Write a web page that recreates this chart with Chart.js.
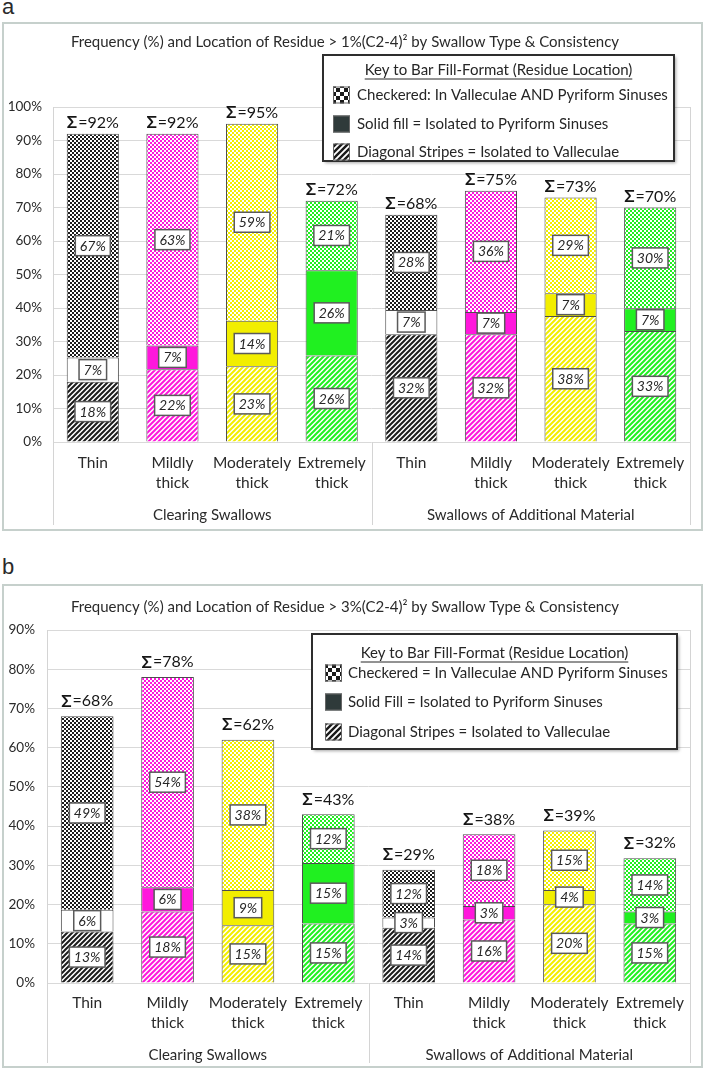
<!DOCTYPE html>
<html>
<head>
<meta charset="utf-8">
<script src="https://cdn.jsdelivr.net/npm/chart.js@4.4.1/dist/chart.umd.min.js"></script>
<style>
  body { margin: 0; background: #fff; width: 706px; height: 1069px; position: relative; overflow: hidden; }
  .tag { position: absolute; left: 2px; font: 22px/22px 'Liberation Sans', Arial, sans-serif; color: #2a2a2a; }
  .frame { position: absolute; left: 2px; width: 701px; border: 2px solid #c6d0cc; box-sizing: border-box; }
  .holder { position: absolute; left: 0; width: 706px; }
</style>
</head>
<body>
<div class="tag" style="top:-4px">a</div>
<div class="frame" style="top:22px;height:509px"></div>
<div class="holder" style="top:0;height:535px"><canvas id="chartA"></canvas></div>
<div class="tag" style="top:556px">b</div>
<div class="frame" style="top:584px;height:484px"></div>
<div class="holder" style="top:540px;height:529px"><canvas id="chartB"></canvas></div>

<script>
// Residue frequency by swallow type & consistency, panels a and b
const categories = [['Thin'], ['Mildly', 'thick'], ['Moderately', 'thick'], ['Extremely', 'thick'],
                    ['Thin'], ['Mildly', 'thick'], ['Moderately', 'thick'], ['Extremely', 'thick']];
const groups = ['Clearing Swallows', 'Swallows of Additional Material'];

// panel a: residue > 1%(C2-4)^2  (bottom -> top: stripes, solid, checkered)
const stripesA = [18.0, 21.7, 22.6, 25.8, 32.2, 32.2, 37.6, 33.1];
const solidA   = [7.2, 7.1, 13.6, 25.5, 7.2, 6.6, 6.8, 6.8];
const checkA   = [66.8, 63.2, 58.8, 20.7, 28.4, 36.2, 28.6, 30.1];

// panel b: residue > 3%(C2-4)^2
const stripesB = [13.1, 18.2, 14.7, 15.2, 14.1, 16.2, 20.1, 15.2];
const solidB   = [5.6, 6.2, 9.0, 15.4, 2.6, 3.4, 3.6, 3.0];
const checkB   = [49.3, 53.6, 38.3, 12.4, 12.2, 18.3, 15.2, 13.6];

const yMaxA = 100;
const yMaxB = 90;
const yStep = 10;

const titleA = 'Frequency (%) and Location of Residue > 1%(C2-4)\u00B2 by Swallow Type & Consistency';
const titleB = 'Frequency (%) and Location of Residue > 3%(C2-4)\u00B2 by Swallow Type & Consistency';
const keyTitle = 'Key to Bar Fill-Format (Residue Location)';
const keyLabelsA = ['Checkered: In Valleculae AND Pyriform Sinuses', 'Solid fill = Isolated to Pyriform Sinuses', 'Diagonal Stripes = Isolated to Valleculae'];
const keyLabelsB = ['Checkered = In Valleculae AND Pyriform Sinuses', 'Solid Fill = Isolated to Pyriform Sinuses', 'Diagonal Stripes = Isolated to Valleculae'];

const FONT = 'Lato, "Open Sans", sans-serif';
const inks = ['#1c1c1c', '#ff17dc', '#f2ee00', '#20f020'];
const solids = ['#ffffff', '#ff17dc', '#f2ee00', '#20f020'];

Chart.defaults.font.family = FONT;
Chart.defaults.color = '#3a3a3a';

function checker(fg, bg, cell) {
  const c = document.createElement('canvas');
  c.width = c.height = cell * 2;
  const g = c.getContext('2d');
  g.fillStyle = bg; g.fillRect(0, 0, cell * 2, cell * 2);
  g.fillStyle = fg; g.fillRect(0, 0, cell, cell); g.fillRect(cell, cell, cell, cell);
  return g.createPattern(c, 'repeat');
}

function stripes(fg, bg, size, lw) {
  const c = document.createElement('canvas');
  c.width = c.height = size;
  const g = c.getContext('2d');
  g.fillStyle = bg; g.fillRect(0, 0, size, size);
  g.strokeStyle = fg; g.lineWidth = lw;
  g.beginPath();
  for (let k = -1; k <= 1; k++) {
    g.moveTo(k * size - 1, size + 1);
    g.lineTo(k * size + size + 1, -1);
  }
  g.stroke();
  return g.createPattern(c, 'repeat');
}

const stripeFills = categories.map((_, i) => stripes(inks[i % 4], '#fff', 5, 2));
const solidFills = categories.map((_, i) => solids[i % 4]);
const checkFills = categories.map((_, i) => checker(inks[i % 4], '#fff', 2));

function drawSigma(ctx, x, y, total) {
  const s = '\u03A3', rest = '=' + total + '%';
  ctx.font = 'bold 17px ' + FONT;
  const w1 = ctx.measureText(s).width;
  ctx.font = '16px ' + FONT;
  const w2 = ctx.measureText(rest).width;
  const x0 = x - (w1 + w2 + 1) / 2;
  ctx.textAlign = 'left';
  ctx.textBaseline = 'middle';
  ctx.fillStyle = '#151515';
  ctx.font = 'bold 17px ' + FONT;
  ctx.fillText(s, x0, y);
  ctx.font = '16px ' + FONT;
  ctx.fillText(rest, x0 + w1 + 1, y);
}

function drawKey(ctx, k) {
  ctx.save();
  ctx.shadowColor = 'rgba(0,0,0,0.35)';
  ctx.shadowOffsetX = 2; ctx.shadowOffsetY = 2; ctx.shadowBlur = 3;
  ctx.fillStyle = '#fff';
  ctx.fillRect(k.x, k.y, k.w, k.h);
  ctx.shadowColor = 'transparent';
  ctx.strokeStyle = '#2e2e2e'; ctx.lineWidth = 2;
  ctx.strokeRect(k.x, k.y, k.w, k.h);

  ctx.fillStyle = '#262626';
  ctx.font = '15px ' + FONT;
  ctx.textAlign = 'center'; ctx.textBaseline = 'middle';
  const cx = k.x + k.w / 2;
  ctx.fillText(keyTitle, cx, k.titleY);
  const tw = ctx.measureText(keyTitle).width;
  ctx.lineWidth = 1; ctx.strokeStyle = '#262626';
  ctx.beginPath(); ctx.moveTo(cx - tw / 2, k.titleY + 9); ctx.lineTo(cx + tw / 2, k.titleY + 9); ctx.stroke();

  const icons = [checker('#1a1a1a', '#fff', 4), '#2f3a3a', stripes('#1a1a1a', '#fff', 6, 2.4)];
  k.rows.forEach((ry, i) => {
    ctx.fillStyle = icons[i];
    ctx.fillRect(k.iconX, ry - 8.5, 17, 17);
    ctx.strokeStyle = '#666'; ctx.lineWidth = 1;
    ctx.strokeRect(k.iconX + 0.5, ry - 8, 16, 16);
    ctx.fillStyle = '#262626';
    ctx.textAlign = 'left';
    ctx.fillText(k.labels[i], k.textX, ry);
  });
  ctx.restore();
}

const panelExtras = {
  id: 'panelExtras',
  beforeDatasetsDraw(chart, args, o) {
    const { ctx, chartArea: a, scales } = chart;
    const mid = (scales.x.getPixelForValue(3) + scales.x.getPixelForValue(4)) / 2;
    ctx.save();
    ctx.strokeStyle = '#d4d4d4'; ctx.lineWidth = 1;
    ctx.beginPath();
    ctx.moveTo(Math.round(a.left) + 0.5, a.top); ctx.lineTo(Math.round(a.left) + 0.5, o.lineBottom);
    ctx.moveTo(Math.round(a.right) + 0.5, a.top); ctx.lineTo(Math.round(a.right) + 0.5, o.lineBottom);
    ctx.moveTo(Math.round(mid) + 0.5, a.bottom); ctx.lineTo(Math.round(mid) + 0.5, o.lineBottom);
    ctx.stroke();
    ctx.restore();
  },
  afterDatasetsDraw(chart, args, o) {
    const ctx = chart.ctx;
    const sets = chart.data.datasets;
    ctx.save();
    sets.forEach((ds, di) => {
      chart.getDatasetMeta(di).data.forEach((bar, i) => {
        const txt = Math.round(ds.data[i]) + '%';
        const cy = (bar.y + bar.base) / 2;
        ctx.font = 'italic 14px ' + FONT;
        const w = ctx.measureText(txt).width + 9, h = 20;
        ctx.fillStyle = '#fff';
        ctx.fillRect(bar.x - w / 2, cy - h / 2, w, h);
        ctx.strokeStyle = '#5a5a5a'; ctx.lineWidth = 1.5;
        ctx.strokeRect(bar.x - w / 2, cy - h / 2, w, h);
        ctx.fillStyle = '#262626';
        ctx.textAlign = 'center'; ctx.textBaseline = 'middle';
        ctx.fillText(txt, bar.x, cy + 0.5);
      });
    });
    chart.getDatasetMeta(sets.length - 1).data.forEach((bar, i) => {
      const total = sets.reduce((s, ds) => s + ds.data[i], 0);
      drawSigma(ctx, bar.x, bar.y - o.sumGap, Math.round(total));
    });
    ctx.restore();
  },
  afterDraw(chart, args, o) {
    drawKey(chart.ctx, o.key);
  }
};

function renderPanel(id, d) {
  new Chart(document.getElementById(id), {
    type: 'bar',
    plugins: [panelExtras],
    data: {
      labels: categories,
      datasets: [
        { label: 'Diagonal Stripes', data: d.stripes, backgroundColor: stripeFills },
        { label: 'Solid fill', data: d.solid, backgroundColor: solidFills },
        { label: 'Checkered', data: d.check, backgroundColor: checkFills }
      ]
    },
    options: {
      responsive: true,
      maintainAspectRatio: false,
      animation: false,
      layout: { padding: { left: 0, right: 16, top: 0, bottom: 0 } },
      datasets: {
        bar: { borderColor: '#4d4d4d', borderWidth: 1, categoryPercentage: 1, barPercentage: 0.655 }
      },
      plugins: {
        legend: { display: false },
        tooltip: { enabled: false },
        title: {
          display: true,
          text: d.title,
          color: '#2a2a2a',
          font: { size: 15, weight: 'normal', lineHeight: 1.2 },
          padding: { top: d.titleTop, bottom: d.titleBottom }
        },
        panelExtras: { sumGap: d.sumGap, lineBottom: d.lineBottom, key: d.key }
      },
      scales: {
        x: {
          stacked: true,
          grid: { display: false, drawTicks: false },
          border: { display: false },
          ticks: { autoSkip: false, maxRotation: 0, padding: d.xPad, color: '#2a2a2a', font: { size: 15.5, lineHeight: 20 / 15.5 } },
          afterFit: s => { s.height = d.xHeight; }
        },
        x2: {
          type: 'category',
          labels: groups,
          position: 'bottom',
          offset: true,
          grid: { display: false, drawTicks: false },
          border: { display: false },
          ticks: { autoSkip: false, maxRotation: 0, padding: d.gPad, color: '#2a2a2a', font: { size: 15, lineHeight: 1.2 } },
          afterFit: s => { s.height = d.gHeight; }
        },
        y: {
          stacked: true,
          min: 0,
          max: d.yMax,
          grid: { color: '#d9d9d9', drawTicks: false },
          border: { display: false },
          ticks: { stepSize: yStep, padding: d.yPad, color: '#2a2a2a', font: { size: 13.5 }, callback: v => v + '%' },
          afterFit: s => { s.width = d.left; }
        }
      }
    }
  });
}

renderPanel('chartA', {
  stripes: stripesA, solid: solidA, check: checkA, yMax: yMaxA, title: titleA,
  titleTop: 33, titleBottom: 56, left: 53, yPad: 11, xPad: 11, xHeight: 60, gPad: 4, gHeight: 33,
  sumGap: 11, lineBottom: 525,
  key: { x: 323, y: 55, w: 351, h: 106, titleY: 70, iconX: 333, textX: 357, rows: [95, 124, 152], labels: keyLabelsA }
});

renderPanel('chartB', {
  stripes: stripesB, solid: solidB, check: checkB, yMax: yMaxB, title: titleB,
  titleTop: 58, titleBottom: 14, left: 47, yPad: 12, xPad: 10, xHeight: 58, gPad: 5, gHeight: 28,
  sumGap: 15, lineBottom: 523,
  key: { x: 312, y: 94, w: 365, h: 115, titleY: 113, iconX: 325, textX: 348, rows: [133, 162, 192], labels: keyLabelsB }
});
</script>
</body>
</html>
